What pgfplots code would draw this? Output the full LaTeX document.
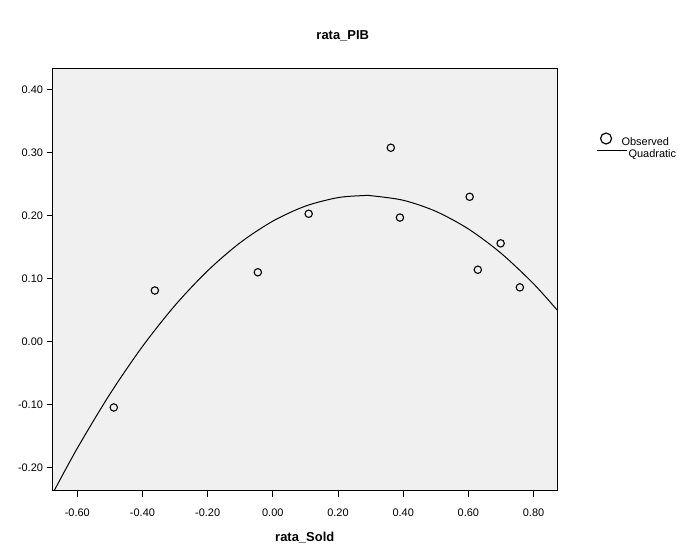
\documentclass[border=0pt]{standalone}
\usepackage{pgfplots}
\pgfplotsset{compat=1.18}
\usepackage{fontspec}
\setmainfont{Liberation Sans}
\definecolor{panel}{HTML}{F0F0F0}

\begin{document}
\begin{tikzpicture}
\begin{axis}[
  name=main,
  at={(0,0)}, anchor=south west,
  scale only axis,
  width=504.5bp, height=422bp,
  xmin=-0.676, xmax=0.872,
  ymin=-0.237, ymax=0.434,
  axis background/.style={fill=panel},
  axis x line*=bottom, axis y line*=left,
  axis line style={line width=0.9pt},
  xtick={-0.6,-0.4,...,0.8},
  ytick={-0.2,-0.1,...,0.4},
  tick align=outside,
  major tick length=6bp,
  tick style={line width=0.9pt, black},
  xticklabel style={font=\fontsize{11}{13}\selectfont, yshift=-9bp},
  yticklabel style={font=\fontsize{11}{13}\selectfont},
  /pgf/number format/.cd, fixed, fixed zerofill, precision=2, assume math mode=true,
  /pgfplots/.cd,
  xlabel={\textbf{rata\_Sold}},
  xlabel style={font=\fontsize{13}{15}\selectfont, yshift=-8bp},
  title={\textbf{rata\_PIB}},
  title style={font=\fontsize{13}{15}\selectfont, at={(0.5,1)}, xshift=38bp, yshift=18bp},
  legend style={at={(1.078,0.849)}, anchor=north west, draw=none, fill=none,
    font=\fontsize{11}{13}\selectfont, row sep=1bp, inner sep=0pt,
    nodes={inner sep=1bp}},
  legend cell align=left,
  clip=true,
]
\addplot[only marks, mark=o, mark size=3.7bp, mark options={line width=1.1pt, black},
  legend image code/.code={\draw[black, line width=1.2pt] (9bp,0) circle (5.5bp);}]
  coordinates {
  (-0.488,-0.105) (-0.362,0.081) (-0.046,0.110) (0.110,0.203) (0.362,0.308)
  (0.390,0.197) (0.604,0.230) (0.629,0.114) (0.699,0.156) (0.758,0.086)
};
\addlegendentry{\hspace{-7bp}Observed}
\addplot[black, line width=1pt, smooth, no marks,
  legend image code/.code={\draw[black, line width=1pt] (0,0) -- (30bp,0);}]
  coordinates {
  (-0.676,-0.2423) (-0.6,-0.1699) (-0.5,-0.0838) (-0.4,-0.0080) (-0.3,0.0574)
  (-0.2,0.1124) (-0.1,0.1571) (0,0.1913) (0.1,0.2152) (0.2,0.2287) (0.28,0.2320)
  (0.3,0.2318) (0.4,0.2245) (0.5,0.2069) (0.6,0.1789) (0.7,0.1404) (0.8,0.0917)
  (0.872,0.0501)
};
\addlegendentry{Quadratic}
\end{axis}
\draw[line width=0.9pt] (main.south west) rectangle (main.north east);
\pgfresetboundingbox
\useasboundingbox (-52.5bp,-56.5bp) rectangle (633.5bp,490.5bp);
\end{tikzpicture}
\end{document}
